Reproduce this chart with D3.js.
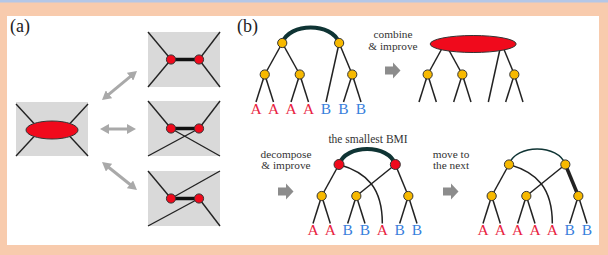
<!DOCTYPE html>
<html>
<head>
<meta charset="utf-8">
<script src="https://cdn.jsdelivr.net/npm/d3@7"></script>
<style>
  html, body { margin: 0; padding: 0; background: #f8cbad; }
  svg { display: block; }
</style>
</head>
<body>
<svg id="chart"></svg>
<script>
// panel (a): which box corner joins which node (0 = left node, 1 = right node)
const variants = [
  [["tl", 0], ["bl", 0], ["tr", 1], ["br", 1]],
  [["tl", 0], ["br", 0], ["tr", 1], ["bl", 1]],
  [["tl", 0], ["tr", 0], ["bl", 1], ["br", 1]]
]

// panel (b): leaf labels of each tree, left to right
const leavesBefore     = ["A", "A", "A", "A", "B", "B", "B"]
const leavesCombined   = ["", "", "", "", "", "", ""]
const leavesDecomposed = ["A", "A", "B", "B", "A", "B", "B"]
const leavesNext       = ["A", "A", "A", "A", "A", "B", "B"]

// cherries = leaf pairs under one internal node
const cherries = [[0, 1], [2, 3], [5, 6]]
// children of the two upper nodes: "c" = cherry, "l" = leaf
const upperBefore = [[["c", 0], ["c", 1]], [["l", 4], ["c", 2]]]
const upperAfter  = [[["c", 0], ["l", 4]], [["c", 1], ["c", 2]]]

const steps = [["combine", "& improve"], ["decompose", "& improve"], ["move to", "the next"]]
const bmiLabel = "the smallest BMI"

const width = 608, height = 255
const serif = '"Liberation Serif", "Times New Roman", Times, "DejaVu Serif", serif'
const ink = "#222"
const red = "#f00a1c"
const yellow = "#f7b900"
const boxGrey = "#d9d9d9"
const letterColor = { A: "#e8233f", B: "#3a7fdc" }

const svg = d3.select("#chart")
    .attr("width", width)
    .attr("height", height)
    .attr("font-family", serif)

// frame
svg.append("rect").attr("width", width).attr("height", height).attr("fill", "#f8cbad")
svg.append("rect").attr("width", width).attr("height", 2.5).attr("fill", "#b4c7e7")
svg.append("rect").attr("x", 7).attr("y", 16).attr("width", 592).attr("height", 229).attr("fill", "#fff")

svg.append("text").text("(a)").attr("x", 10).attr("y", 32).attr("font-size", 18).attr("fill", "#222").attr("font-family", serif)
svg.append("text").text("(b)").attr("x", 237).attr("y", 32).attr("font-size", 18).attr("fill", "#222").attr("font-family", serif)

const defs = svg.append("defs")
defs.append("marker")
    .attr("id", "head")
    .attr("viewBox", "0 0 9 10")
    .attr("markerUnits", "userSpaceOnUse")
    .attr("markerWidth", 9)
    .attr("markerHeight", 10)
    .attr("refX", 1)
    .attr("refY", 5)
    .attr("orient", "auto-start-reverse")
  .append("path")
    .attr("d", "M0,0 L9,5 L0,10 Z")
    .attr("fill", "#a9a9a9")

// ---------- panel (a) ----------
const pa = svg.append("g")

// merged vertex
const big = { x: 16, y: 102, w: 72, h: 54 }
const bigC = { x: big.x + 36, y: big.y + 28 }
pa.append("rect").attr("x", big.x).attr("y", big.y).attr("width", big.w).attr("height", big.h).attr("fill", boxGrey)
;[["tl", -1, -1], ["tr", 1, -1], ["bl", -1, 1], ["br", 1, 1]].forEach(([k, sx, sy]) => {
  pa.append("line")
      .attr("x1", bigC.x + sx * big.w / 2).attr("y1", bigC.y + sy * (big.h / 2 - 1))
      .attr("x2", bigC.x + sx * 18).attr("y2", bigC.y + sy * 6.5)
      .attr("stroke", ink).attr("stroke-width", 1.4)
})
pa.append("ellipse")
    .attr("cx", bigC.x).attr("cy", bigC.y).attr("rx", 26).attr("ry", 9)
    .attr("fill", red).attr("stroke", "#333").attr("stroke-width", 1)

// the three ways to split it
const boxY = d3.scaleOrdinal().domain(d3.range(variants.length)).range([32, 101, 171])
const nodeX = d3.scalePoint().domain([0, 1]).range([171, 199])
const bw = 72, bh = 55, bx = 148

variants.forEach((v, i) => {
  const y0 = boxY(i), cy = y0 + bh / 2
  const corner = { tl: [bx, y0], tr: [bx + bw, y0], bl: [bx, y0 + bh], br: [bx + bw, y0 + bh] }
  const g = pa.append("g")
  g.append("rect").attr("x", bx).attr("y", y0).attr("width", bw).attr("height", bh).attr("fill", boxGrey)
  g.selectAll("line.edge")
      .data(v)
    .enter().append("line")
      .attr("class", "edge")
      .attr("x1", d => corner[d[0]][0]).attr("y1", d => corner[d[0]][1])
      .attr("x2", d => nodeX(d[1])).attr("y2", cy)
      .attr("stroke", ink).attr("stroke-width", 1.4)
  g.append("line")
      .attr("x1", nodeX(0)).attr("x2", nodeX(1)).attr("y1", cy).attr("y2", cy)
      .attr("stroke", "#111").attr("stroke-width", 3.5)
  g.selectAll("circle")
      .data([0, 1])
    .enter().append("circle")
      .attr("cx", d => nodeX(d)).attr("cy", cy).attr("r", 4.6)
      .attr("fill", red).attr("stroke", "#333").attr("stroke-width", 1)
})

// double headed arrows
const arrows = [[[102, 100], [137, 71]], [[100, 129], [136, 129]], [[102, 162], [137, 190]]]
arrows.forEach(([p0, p1]) => {
  const dx = p1[0] - p0[0], dy = p1[1] - p0[1], len = Math.hypot(dx, dy)
  const ux = dx / len, uy = dy / len
  pa.append("line")
      .attr("x1", p0[0] + ux * 8).attr("y1", p0[1] + uy * 8)
      .attr("x2", p1[0] - ux * 8).attr("y2", p1[1] - uy * 8)
      .attr("stroke", "#a9a9a9").attr("stroke-width", 3)
      .attr("marker-start", "url(#head)")
      .attr("marker-end", "url(#head)")
})

// ---------- panel (b) ----------
const pb = svg.append("g")

// upper node slots come from the original tree and stay put
const cherrySlot = cherries.map(c => d3.mean(c))
const slotOf = ([t, i]) => t === "c" ? cherrySlot[i] : i
const upperSlot = upperBefore.map(kids => d3.mean(kids, slotOf))

const drawTree = (opt) => {
  const x = d3.scaleLinear().domain([0, 6]).range([opt.left, opt.right])
  // levels: 0 arc peak, 1 upper nodes, 2 cherries, 3 leaf tips, 4 label baseline
  const y = d3.scaleLinear().domain([0, 1, 2, 3, 4]).range([opt.top - 15.5, opt.top, opt.top + 31.5, opt.top + 59, opt.top + 70.5])
  const g = pb.append("g")
  const line = (x1, y1, x2, y2, w) => g.append("line")
      .attr("x1", x1).attr("y1", y1).attr("x2", x2).attr("y2", y2)
      .attr("stroke", ink).attr("stroke-width", w || 1.5)

  // cherry -> leaves
  cherries.forEach((c, ci) => {
    c.forEach(l => line(x(cherrySlot[ci]), y(2), x(l), y(3)))
  })
  // upper -> children
  opt.upper.forEach((kids, ui) => {
    kids.forEach((k, ki) => {
      const ux = x(upperSlot[ui]), uy = y(1)
      const thick = opt.thick && opt.thick[0] === ui && opt.thick[1] === ki
      if (k[0] === "c") {
        line(ux, uy, x(cherrySlot[k[1]]), y(2), thick ? 3.5 : 1.5)
      } else if (opt.curved) {
        const lx = x(k[1]), ly = y(3)
        g.append("path")
            .attr("d", `M${ux},${uy} C${ux + (lx - ux) * 0.65},${uy + 8} ${lx},${uy + (ly - uy) * 0.4} ${lx},${ly}`)
            .attr("fill", "none").attr("stroke", ink).attr("stroke-width", 1.5)
      } else {
        line(ux, uy, x(k[1]), y(3))
      }
    })
  })

  const [ax, bx2] = upperSlot.map(s => x(s))
  if (opt.fused) {
    g.append("ellipse")
        .attr("cx", (ax + bx2) / 2).attr("cy", y(1) + 1)
        .attr("rx", 43).attr("ry", 8.5)
        .attr("fill", red).attr("stroke", "#333").attr("stroke-width", 1)
  } else {
    const h = (y(1) - y(0)) * 1.33, d = (bx2 - ax) * 0.12
    g.append("path")
        .attr("d", `M${ax},${y(1)} C${ax + d},${y(1) - h} ${bx2 - d},${y(1) - h} ${bx2},${y(1)}`)
        .attr("fill", "none").attr("stroke", "#0f3434").attr("stroke-width", opt.arcWidth)
    g.selectAll("circle.upper")
        .data(upperSlot)
      .enter().append("circle")
        .attr("class", "upper")
        .attr("cx", d => x(d)).attr("cy", y(1)).attr("r", opt.topColor === red ? 5 : 4.6)
        .attr("fill", opt.topColor).attr("stroke", "#333").attr("stroke-width", 1)
  }
  g.selectAll("circle.cherry")
      .data(cherrySlot)
    .enter().append("circle")
      .attr("class", "cherry")
      .attr("cx", d => x(d)).attr("cy", y(2)).attr("r", 4.6)
      .attr("fill", yellow).attr("stroke", "#333").attr("stroke-width", 1)
  g.selectAll("text.leaf")
      .data(opt.leaves)
    .enter().append("text")
      .attr("class", "leaf")
      .attr("x", (d, i) => x(i)).attr("y", y(4))
      .attr("text-anchor", "middle")
      .attr("font-family", serif)
      .attr("font-size", 15.5)
      .attr("fill", d => letterColor[d])
      .text(d => d)
}

drawTree({ leaves: leavesBefore, upper: upperBefore, left: 256, right: 361, top: 43, topColor: yellow, arcWidth: 4 })
drawTree({ leaves: leavesCombined, upper: upperBefore, left: 419, right: 523, top: 43, fused: true })
drawTree({ leaves: leavesDecomposed, upper: upperAfter, left: 313, right: 417, top: 164.5, topColor: red, arcWidth: 4, curved: true })
drawTree({ leaves: leavesNext, upper: upperAfter, left: 483, right: 587, top: 164.5, topColor: yellow, arcWidth: 1.6, curved: true, thick: [1, 1] })

pb.append("text").text(bmiLabel)
    .attr("x", 368).attr("y", 143).attr("text-anchor", "middle")
    .attr("font-family", serif)
    .attr("font-size", 11.5).attr("fill", "#333")

// step captions with block arrows
const stepPos = [{ x: 393, y: 38, ay: 70.5 }, { x: 286, y: 157.5, ay: 191.5 }, { x: 451, y: 157.5, ay: 191.5 }]
steps.forEach((s, i) => {
  const p = stepPos[i]
  const t = pb.append("text")
      .attr("x", p.x).attr("y", p.y).attr("text-anchor", "middle")
      .attr("font-family", serif)
      .attr("font-size", 11.3).attr("fill", "#333")
  s.forEach((row, j) => t.append("tspan").attr("x", p.x).attr("dy", j ? 11.5 : 0).text(row))
  const cx = p.x
  pb.append("path")
      .attr("d", `M${cx - 8},${p.ay - 4} L${cx},${p.ay - 4} L${cx},${p.ay - 8} L${cx + 7.5},${p.ay} L${cx},${p.ay + 8} L${cx},${p.ay + 4} L${cx - 8},${p.ay + 4} Z`)
      .attr("fill", "#8c8c8c")
})
</script>
</body>
</html>
